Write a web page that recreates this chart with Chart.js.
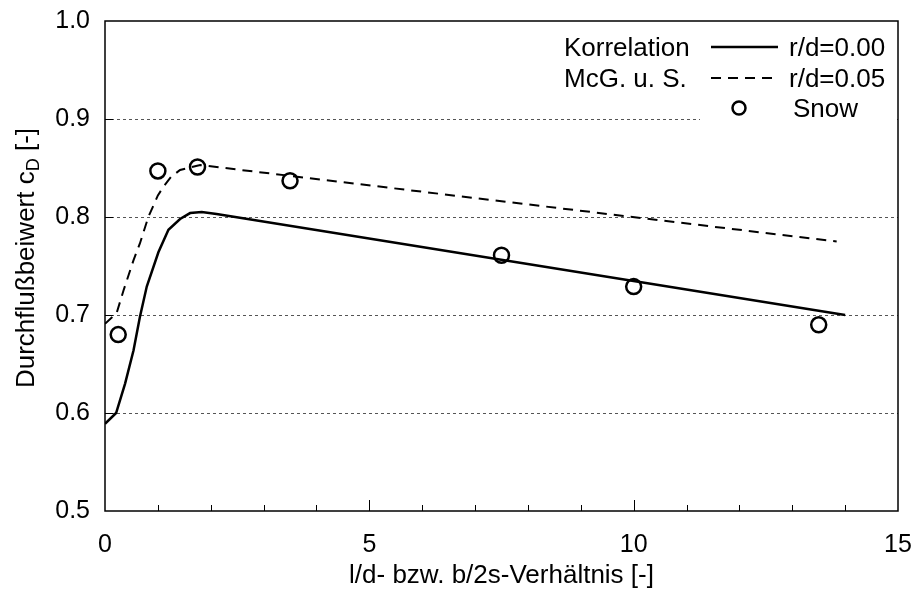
<!DOCTYPE html>
<html lang="de">
<head>
<meta charset="UTF-8">
<title>Durchflußbeiwert</title>
<style>
    body { margin: 0; background: #fff; }
    #chart { display: block; }
</style>
</head>
<body>
<canvas id="chart" width="916" height="589"></canvas>
<script src="https://cdn.jsdelivr.net/npm/chart.js"></script>
<script>
// Korrelation McG. u. S., r/d = 0.00
const corr0X = [0, 0.21, 0.38, 0.54, 0.66, 0.79, 1.01, 1.2, 1.42, 1.61, 1.83, 2.11, 14];
const corr0Y = [0.589, 0.600, 0.630, 0.664, 0.698, 0.729, 0.764, 0.787, 0.798, 0.804, 0.805, 0.803, 0.700];

// Korrelation McG. u. S., r/d = 0.05
const corr5X = [0, 0.22, 0.35, 0.54, 0.66, 0.82, 1.0, 1.12, 1.25, 1.42, 1.8, 13.84];
const corr5Y = [0.691, 0.702, 0.725, 0.756, 0.773, 0.800, 0.822, 0.832, 0.841, 0.848, 0.853, 0.775];

// Messwerte nach Snow
const snowX = [0.25, 1.0, 1.75, 3.5, 7.5, 10.0, 13.5];
const snowY = [0.680, 0.847, 0.851, 0.837, 0.761, 0.729, 0.690];

const xLabels = [0, 5, 10, 15];
const yLabels = [0.5, 0.6, 0.7, 0.8, 0.9, 1.0];
const gridValues = [0.6, 0.7, 0.8, 0.9];

const FONT = 'Liberation Sans, Arial, sans-serif';

function pts(xs, ys) {
    return xs.map((x, i) => ({ x: x, y: ys[i] }));
}

// frame, dotted grid, inward ticks, titles and the legend box
const decor = {
    id: 'decor',
    beforeDatasetsDraw(chart) {
        const { ctx, chartArea: a, scales: { y } } = chart;
        ctx.save();
        ctx.strokeStyle = '#555';
        ctx.lineWidth = 1;
        ctx.setLineDash([3, 3]);
        gridValues.forEach(v => {
            const py = Math.round(y.getPixelForValue(v)) + 0.5;
            ctx.beginPath();
            ctx.moveTo(a.left, py);
            ctx.lineTo(a.right, py);
            ctx.stroke();
        });
        ctx.restore();
    },
    afterDraw(chart) {
        const { ctx, chartArea: a, scales: { x, y } } = chart;
        ctx.save();

        // legend background
        ctx.fillStyle = '#fff';
        ctx.fillRect(700, a.top + 2, a.right - 702, 106);

        // frame
        ctx.strokeStyle = '#000';
        ctx.lineWidth = 1.5;
        ctx.setLineDash([]);
        ctx.strokeRect(a.left, a.top, a.right - a.left, a.bottom - a.top);

        // ticks pointing into the plot
        ctx.lineWidth = 1;
        for (let i = 1; i < 15; i++) {
            const px = Math.round(x.getPixelForValue(i)) + 0.5;
            const len = i % 5 === 0 ? 11 : 6;
            ctx.beginPath();
            ctx.moveTo(px, a.bottom);
            ctx.lineTo(px, a.bottom - len);
            ctx.stroke();
        }
        gridValues.forEach(v => {
            const py = Math.round(y.getPixelForValue(v)) + 0.5;
            ctx.beginPath();
            ctx.moveTo(a.left, py);
            ctx.lineTo(a.left + 8, py);
            ctx.stroke();
        });

        ctx.fillStyle = '#000';
        ctx.textBaseline = 'alphabetic';

        // x title
        ctx.font = '26px ' + FONT;
        ctx.textAlign = 'center';
        ctx.fillText('l/d- bzw. b/2s-Verhältnis [-]', (a.left + a.right) / 2, 583);

        // y title with subscript D
        const big = '26px ' + FONT, small = '18px ' + FONT;
        const p1 = 'Durchflußbeiwert c', p2 = 'D', p3 = ' [-]';
        ctx.font = big;
        const w1 = ctx.measureText(p1).width, w3 = ctx.measureText(p3).width;
        ctx.font = small;
        const w2 = ctx.measureText(p2).width;
        const total = w1 + w2 + w3;
        ctx.translate(34, 258);
        ctx.rotate(-Math.PI / 2);
        ctx.textAlign = 'left';
        let sx = -total / 2;
        ctx.font = big;
        ctx.fillText(p1, sx, 0);
        sx += w1;
        ctx.font = small;
        ctx.fillText(p2, sx, 5);
        sx += w2;
        ctx.font = big;
        ctx.fillText(p3, sx, 0);
        ctx.setTransform(1, 0, 0, 1, 0, 0);

        // legend
        ctx.font = '26px ' + FONT;
        ctx.textAlign = 'left';
        ctx.fillText('Korrelation', 564, 56);
        ctx.fillText('McG. u. S.', 564, 87);
        ctx.fillText('r/d=0.00', 789, 56);
        ctx.fillText('r/d=0.05', 789, 87);
        ctx.fillText('Snow', 793, 117);

        ctx.lineWidth = 2.5;
        ctx.beginPath();
        ctx.moveTo(711, 47);
        ctx.lineTo(778, 47);
        ctx.stroke();

        ctx.lineWidth = 2;
        ctx.setLineDash([10, 7]);
        ctx.beginPath();
        ctx.moveTo(711, 78);
        ctx.lineTo(778, 78);
        ctx.stroke();

        ctx.setLineDash([]);
        ctx.lineWidth = 2.5;
        ctx.beginPath();
        ctx.arc(739, 108, 6.5, 0, Math.PI * 2);
        ctx.stroke();

        ctx.restore();
    }
};

new Chart(document.getElementById('chart'), {
    type: 'line',
    data: {
        datasets: [
            {
                label: 'r/d=0.00',
                data: pts(corr0X, corr0Y),
                borderColor: '#000',
                borderWidth: 2.5,
                pointRadius: 0,
                tension: 0,
                order: 3
            },
            {
                label: 'r/d=0.05',
                data: pts(corr5X, corr5Y),
                borderColor: '#000',
                borderWidth: 2,
                borderDash: [10, 7],
                pointRadius: 0,
                tension: 0,
                order: 2
            },
            {
                label: 'Snow',
                data: pts(snowX, snowY),
                showLine: false,
                pointStyle: 'circle',
                pointRadius: 7.5,
                pointBorderWidth: 2.5,
                pointBorderColor: '#000',
                pointBackgroundColor: 'rgba(0,0,0,0)',
                order: 1
            }
        ]
    },
    options: {
        responsive: false,
        animation: false,
        devicePixelRatio: 1,
        layout: { padding: { top: 21, right: 18, left: 0, bottom: 0 } },
        plugins: {
            legend: { display: false },
            tooltip: { enabled: false }
        },
        scales: {
            x: {
                type: 'linear',
                min: 0,
                max: 15,
                afterFit: s => {
                    s.height = 78;
                    s.paddingLeft = 0;
                    s.paddingRight = 0;
                },
                afterBuildTicks: s => { s.ticks = xLabels.map(v => ({ value: v })); },
                grid: { display: false, drawTicks: false },
                border: { display: false },
                ticks: {
                    color: '#000',
                    padding: 19,
                    maxRotation: 0,
                    font: { family: FONT, size: 25 }
                }
            },
            y: {
                type: 'linear',
                min: 0.5,
                max: 1.0,
                afterFit: s => {
                    s.width = 105;
                    s.paddingTop = 0;
                    s.paddingBottom = 0;
                },
                afterBuildTicks: s => { s.ticks = yLabels.map(v => ({ value: v })); },
                grid: { display: false, drawTicks: false },
                border: { display: false },
                ticks: {
                    color: '#000',
                    padding: 15,
                    font: { family: FONT, size: 25 },
                    callback: v => v.toFixed(1)
                }
            }
        }
    },
    plugins: [decor]
});
</script>
</body>
</html>
